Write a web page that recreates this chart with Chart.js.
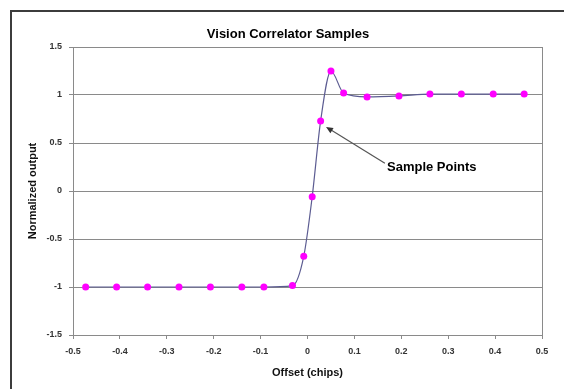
<!DOCTYPE html>
<html>
<head>
<meta charset="utf-8">
<script src="https://cdn.jsdelivr.net/npm/chart.js@4/dist/chart.umd.min.js"></script>
<style>
  html, body { margin: 0; padding: 0; background: #ffffff; }
  canvas { display: block; }
</style>
</head>
<body>
<canvas id="chart" width="564" height="389"></canvas>
<script>
// Correlator sample offsets (chips) and normalized outputs
const offsets = [-0.473, -0.407, -0.341, -0.274, -0.207, -0.140, -0.093, -0.032,
                 -0.008, 0.010, 0.028, 0.050, 0.077, 0.127, 0.195, 0.261, 0.328, 0.396, 0.462];
const outputs = [-1.00, -1.00, -1.00, -1.00, -1.00, -1.00, -1.00, -0.985,
                 -0.68, -0.06, 0.73, 1.25, 1.02, 0.98, 0.99, 1.01, 1.01, 1.01, 1.01];

// Axis tick values
const xTicks = [-0.5, -0.4, -0.3, -0.2, -0.1, 0, 0.1, 0.2, 0.3, 0.4, 0.5];
const yTicks = [-1.5, -1, -0.5, 0, 0.5, 1, 1.5];

// Callout: arrow from label to a sample
const calloutText = 'Sample Points';
const calloutTip = [0.0395, 0.667];
const calloutTail = [0.165, 0.289];
const calloutLabelAt = [0.1695, 0.25];

const chartTitle = 'Vision Correlator Samples';

const points = offsets.map((x, i) => ({ x: x, y: outputs[i] }));

const fmt = v => String(Math.round(v * 10) / 10);

const decorations = {
  id: 'decorations',
  beforeDraw(chart) {
    const ctx = chart.ctx;
    ctx.save();
    ctx.fillStyle = '#ffffff';
    ctx.fillRect(0, 0, chart.width, chart.height);
    // outer frame (top and left edges)
    ctx.strokeStyle = '#3c3c3c';
    ctx.lineWidth = 2;
    ctx.beginPath();
    ctx.moveTo(11, chart.height);
    ctx.lineTo(11, 11);
    ctx.lineTo(chart.width, 11);
    ctx.stroke();
    // title
    ctx.fillStyle = '#000000';
    ctx.font = 'bold 13px "Liberation Sans", Arial, sans-serif';
    ctx.textAlign = 'center';
    ctx.textBaseline = 'middle';
    ctx.fillText(chartTitle, 288, 34);
    ctx.restore();
  },
  afterDraw(chart) {
    const ctx = chart.ctx;
    const xs = chart.scales.x, ys = chart.scales.y;
    const a = chart.chartArea;
    ctx.save();
    // plot area border
    ctx.strokeStyle = '#8a8a8a';
    ctx.lineWidth = 1;
    ctx.strokeRect(Math.round(a.left) + 0.5, Math.round(a.top) + 0.5,
                   Math.round(a.right - a.left), Math.round(a.bottom - a.top));
    // callout arrow
    const tx = xs.getPixelForValue(calloutTip[0]), ty = ys.getPixelForValue(calloutTip[1]);
    const sx = xs.getPixelForValue(calloutTail[0]), sy = ys.getPixelForValue(calloutTail[1]);
    const ang = Math.atan2(ty - sy, tx - sx);
    ctx.strokeStyle = '#555555';
    ctx.fillStyle = '#333333';
    ctx.lineWidth = 1.2;
    ctx.beginPath();
    ctx.moveTo(sx, sy);
    ctx.lineTo(tx - 5 * Math.cos(ang), ty - 5 * Math.sin(ang));
    ctx.stroke();
    ctx.beginPath();
    ctx.moveTo(tx, ty);
    ctx.lineTo(tx - 7 * Math.cos(ang) + 3 * Math.sin(ang), ty - 7 * Math.sin(ang) - 3 * Math.cos(ang));
    ctx.lineTo(tx - 7 * Math.cos(ang) - 3 * Math.sin(ang), ty - 7 * Math.sin(ang) + 3 * Math.cos(ang));
    ctx.closePath();
    ctx.fill();
    // callout label
    ctx.fillStyle = '#000000';
    ctx.font = 'bold 13px "Liberation Sans", Arial, sans-serif';
    ctx.textAlign = 'left';
    ctx.textBaseline = 'middle';
    ctx.fillText(calloutText, xs.getPixelForValue(calloutLabelAt[0]), ys.getPixelForValue(calloutLabelAt[1]));
    ctx.restore();
  }
};

const tickFont = { family: '"Liberation Sans", Arial, sans-serif', size: 9, weight: 'bold' };
const titleFont = { family: '"Liberation Sans", Arial, sans-serif', size: 11, weight: 'bold' };

new Chart(document.getElementById('chart'), {
  type: 'scatter',
  data: {
    datasets: [{
      data: points,
      showLine: true,
      borderColor: '#5c5c92',
      borderWidth: 1.2,
      cubicInterpolationMode: 'monotone',
      pointRadius: 3.5,
      pointBackgroundColor: '#ff00ff',
      pointBorderColor: '#ff00ff',
      pointBorderWidth: 0
    }]
  },
  options: {
    responsive: false,
    animation: false,
    devicePixelRatio: 1,
    layout: { padding: { top: 47, right: 22, bottom: 0, left: 0 } },
    plugins: { legend: { display: false }, tooltip: { enabled: false }, title: { display: false } },
    scales: {
      x: {
        type: 'linear',
        min: -0.5, max: 0.5,
        afterFit(s) { s.height = 54; },
        afterBuildTicks(s) { s.ticks = xTicks.map(v => ({ value: v })); },
        grid: { drawOnChartArea: false, drawTicks: true, tickLength: 4, color: '#8a8a8a' },
        border: { color: '#8a8a8a' },
        ticks: { font: tickFont, color: '#333333', padding: 7, maxRotation: 0, callback: v => fmt(v) },
        title: { display: true, text: 'Offset (chips)', font: titleFont, color: '#111111', padding: { top: 0, bottom: 9 } }
      },
      y: {
        type: 'linear',
        min: -1.5, max: 1.5,
        afterFit(s) { s.width = 73; },
        afterBuildTicks(s) { s.ticks = yTicks.map(v => ({ value: v })); },
        grid: { drawOnChartArea: true, drawTicks: true, tickLength: 4, color: '#8a8a8a' },
        border: { color: '#8a8a8a' },
        ticks: { font: tickFont, color: '#333333', padding: 7, callback: v => fmt(v) },
        title: { display: true, text: 'Normalized output', font: titleFont, color: '#111111', padding: { top: 26, bottom: 0 } }
      }
    }
  },
  plugins: [decorations]
});
</script>
</body>
</html>
